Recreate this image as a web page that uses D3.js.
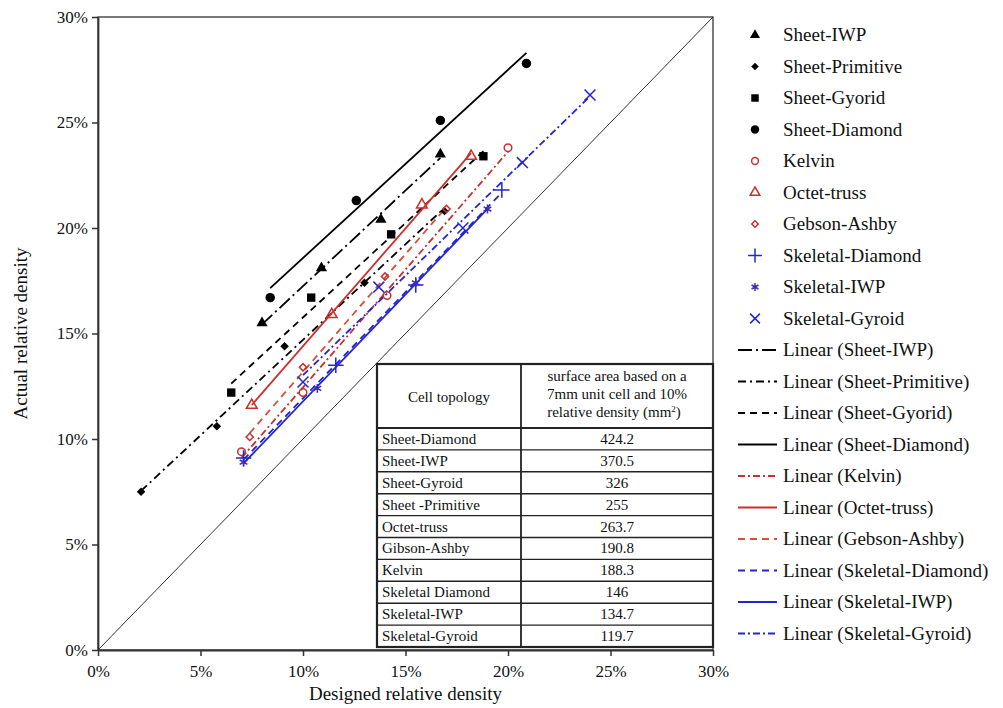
<!DOCTYPE html>
<html>
<head>
<meta charset="utf-8">
<script src="https://cdn.jsdelivr.net/npm/d3@7"></script>
<style>
  body { margin: 0; background: #fff; }
  text { font-family: "Liberation Serif", "Times New Roman", serif; fill: #111; }
</style>
</head>
<body>
<svg id="chart" width="1003" height="708"></svg>
<script>
// series names (legend order)
var seriesNames = ["Sheet-IWP", "Sheet-Primitive", "Sheet-Gyorid", "Sheet-Diamond", "Kelvin",
  "Octet-truss", "Gebson-Ashby", "Skeletal-Diamond", "Skeletal-IWP", "Skeletal-Gyroid"];

// designed (x) and actual (y) relative density, in %
var sheetIwpX = [8.0, 10.9, 13.8, 16.7];
var sheetIwpY = [15.5, 18.1, 20.4, 23.5];
var sheetPrimX = [2.1, 5.8, 9.1, 13.0, 16.9];
var sheetPrimY = [7.5, 10.6, 14.4, 17.4, 20.8];
var sheetGyrX = [6.5, 10.4, 14.3, 18.8];
var sheetGyrY = [12.2, 16.7, 19.7, 23.4];
var sheetDiaX = [8.4, 12.6, 16.7, 20.9];
var sheetDiaY = [16.7, 21.3, 25.1, 27.8];
var kelvinX = [7.0, 10.0, 14.1, 20.0];
var kelvinY = [9.4, 12.2, 16.8, 23.8];
var octetX = [7.5, 11.4, 15.8, 18.2];
var octetY = [11.6, 15.9, 21.1, 23.4];
var gebsonX = [7.4, 10.0, 14.0, 17.0];
var gebsonY = [10.1, 13.4, 17.7, 20.9];
var skelDiaX = [7.1, 11.6, 15.5, 19.7];
var skelDiaY = [9.1, 13.5, 17.3, 21.8];
var skelIwpX = [7.1, 10.7, 15.5, 19.0];
var skelIwpY = [8.9, 12.4, 17.4, 20.9];
var skelGyrX = [10.0, 13.7, 17.8, 20.7, 24.0];
var skelGyrY = [12.7, 17.2, 20.0, 23.1, 26.3];

// axis ticks
var tickValues = [0, 5, 10, 15, 20, 25, 30];

// inset table
var tableNames = ["Sheet-Diamond", "Sheet-IWP", "Sheet-Gyroid", "Sheet -Primitive", "Octet-truss",
  "Gibson-Ashby", "Kelvin", "Skeletal Diamond", "Skeletal-IWP", "Skeletal-Gyroid"];
var tableValues = ["424.2", "370.5", "326", "255", "263.7", "190.8", "188.3", "146", "134.7", "119.7"];

var red = "#c8302e", blue = "#2424d0";

// style per series: marker type, rotation, fill, stroke, trend line dash
var styles = [
  { sym: d3.symbolTriangle, size: 55, rot: 0, fill: "#000", stroke: "none", color: "#000", dash: "14,4,2,4" },
  { sym: d3.symbolSquare, size: 36, rot: 45, fill: "#000", stroke: "none", color: "#000", dash: "8,4,2,4" },
  { sym: d3.symbolSquare, size: 70, rot: 0, fill: "#000", stroke: "none", color: "#000", dash: "7,5" },
  { sym: d3.symbolCircle, size: 70, rot: 0, fill: "#000", stroke: "none", color: "#000", dash: null },
  { sym: d3.symbolCircle, size: 45, rot: 0, fill: "none", stroke: red, color: red, dash: "7,3,2,3" },
  { sym: d3.symbolTriangle, size: 50, rot: 0, fill: "none", stroke: red, color: red, dash: null },
  { sym: d3.symbolSquare, size: 26, rot: 45, fill: "none", stroke: red, color: "#d4503a", dash: "7,5" },
  { sym: d3.symbolPlus, size: 80, rot: 0, fill: "none", stroke: blue, color: blue, dash: "7,5" },
  { sym: d3.symbolAsterisk, size: 55, rot: 0, fill: "none", stroke: "#3a2ab8", color: blue, dash: null },
  { sym: d3.symbolTimes, size: 80, rot: 0, fill: "none", stroke: blue, color: blue, dash: "7,3,2,3" }
];

var xs = [sheetIwpX, sheetPrimX, sheetGyrX, sheetDiaX, kelvinX, octetX, gebsonX, skelDiaX, skelIwpX, skelGyrX];
var ys = [sheetIwpY, sheetPrimY, sheetGyrY, sheetDiaY, kelvinY, octetY, gebsonY, skelDiaY, skelIwpY, skelGyrY];

var svg = d3.select("#chart");

var x = d3.scaleLinear().domain([0, 30]).range([98, 713]);
var y = d3.scaleLinear().domain([0, 30]).range([650, 17]);

// frame
svg.append("rect")
  .attr("x", x(0)).attr("y", y(30))
  .attr("width", x(30) - x(0)).attr("height", y(0) - y(30))
  .attr("fill", "none").attr("stroke", "#333").attr("stroke-width", 1.3);

// y = x reference line
svg.append("line")
  .attr("x1", x(0)).attr("y1", y(0)).attr("x2", x(30)).attr("y2", y(30))
  .attr("stroke", "#333").attr("stroke-width", 1);

// axes
var fmt = function (d) { return d + "%"; };
var xAxis = svg.append("g")
  .attr("transform", "translate(0," + y(0) + ")")
  .call(d3.axisBottom(x).tickValues(tickValues).tickFormat(fmt).tickSize(6).tickSizeOuter(0));
var yAxis = svg.append("g")
  .attr("transform", "translate(" + x(0) + ",0)")
  .call(d3.axisLeft(y).tickValues(tickValues).tickFormat(fmt).tickSize(6).tickSizeOuter(0));
[xAxis, yAxis].forEach(function (g) {
  g.attr("font-family", null);
  g.select(".domain").attr("stroke", "#333").attr("stroke-width", 1.8);
  g.selectAll(".tick line").attr("stroke", "#333").attr("stroke-width", 1.5);
  g.selectAll(".tick text").attr("font-size", 17).attr("fill", "#111")
    .style("font-family", "'Liberation Serif', serif");
});
xAxis.selectAll(".tick text").attr("dy", "1.05em");
yAxis.selectAll(".tick text").attr("x", -10);

// axis titles
svg.append("text").attr("x", x(15)).attr("y", 700).attr("text-anchor", "middle")
  .attr("font-size", 19).text("Designed relative density");
svg.append("text").attr("transform", "translate(27," + y(15) + ")rotate(-90)")
  .attr("text-anchor", "middle").attr("font-size", 19).text("Actual relative density");

// least-squares trend line over the data range
function fit(xv, yv) {
  var mx = d3.mean(xv), my = d3.mean(yv);
  var sxy = d3.sum(xv, function (v, i) { return (v - mx) * (yv[i] - my); });
  var sxx = d3.sum(xv, function (v) { return (v - mx) * (v - mx); });
  var b = sxy / sxx, a = my - b * mx;
  var x0 = d3.min(xv), x1 = d3.max(xv);
  return [[x0, a + b * x0], [x1, a + b * x1]];
}

var line = d3.line().x(function (d) { return x(d[0]); }).y(function (d) { return y(d[1]); });

xs.forEach(function (xv, i) {
  svg.append("path")
    .attr("d", line(fit(xv, ys[i])))
    .attr("fill", "none")
    .attr("stroke", styles[i].color)
    .attr("stroke-width", 1.8)
    .attr("stroke-dasharray", styles[i].dash);
});

function drawMarker(g, st, px, py, scale) {
  g.append("path")
    .attr("d", d3.symbol().type(st.sym).size(st.size * (scale || 1))())
    .attr("transform", "translate(" + px + "," + py + ")rotate(" + st.rot + ")")
    .attr("fill", st.fill)
    .attr("stroke", st.stroke)
    .attr("stroke-width", st.fill === "none" ? 1.5 : 0);
}

var markers = svg.append("g");
xs.forEach(function (xv, i) {
  xv.forEach(function (v, j) {
    drawMarker(markers, styles[i], x(v), y(ys[i][j]));
  });
});

// inset table
var tbl = svg.append("g");
var tx0 = 377, tx1 = 713, tmid = 521, ty0 = 364, thead = 428, ty1 = 647;
var rowH = (ty1 - thead) / tableNames.length;
tbl.append("rect").attr("x", tx0).attr("y", ty0).attr("width", tx1 - tx0).attr("height", ty1 - ty0)
  .attr("fill", "#fff").attr("stroke", "#222").attr("stroke-width", 2.2);
tbl.append("line").attr("x1", tmid).attr("x2", tmid).attr("y1", ty0).attr("y2", ty1)
  .attr("stroke", "#222").attr("stroke-width", 1.8);
tbl.append("line").attr("x1", tx0).attr("x2", tx1).attr("y1", thead).attr("y2", thead)
  .attr("stroke", "#222").attr("stroke-width", 1.8);
tableNames.forEach(function (name, i) {
  var ry = thead + i * rowH;
  if (i > 0) {
    tbl.append("line").attr("x1", tx0).attr("x2", tx1).attr("y1", ry).attr("y2", ry)
      .attr("stroke", "#222").attr("stroke-width", 1.4);
  }
  tbl.append("text").attr("x", tx0 + 5).attr("y", ry + rowH / 2 + 5)
    .attr("font-size", 15).text(name);
  tbl.append("text").attr("x", (tmid + tx1) / 2).attr("y", ry + rowH / 2 + 5)
    .attr("text-anchor", "middle").attr("font-size", 15).text(tableValues[i]);
});
tbl.append("text").attr("x", (tx0 + tmid) / 2).attr("y", 402).attr("text-anchor", "middle")
  .attr("font-size", 15).text("Cell topology");
var head = tbl.append("text").attr("text-anchor", "middle").attr("font-size", 15);
head.append("tspan").attr("x", (tmid + tx1) / 2).attr("y", 381).text("surface area based on a");
head.append("tspan").attr("x", (tmid + tx1) / 2).attr("y", 399).text("7mm unit cell and 10%");
head.append("tspan").attr("x", (tmid + tx1) / 2 - 3).attr("y", 417).text("relative density (mm");
head.append("tspan").attr("dy", -5).attr("font-size", 9).text("2");
head.append("tspan").attr("dy", 5).text(")");

// legend
var leg = svg.append("g");
var legY0 = 35, legStep = 31.5, legTextX = 783;
seriesNames.forEach(function (name, i) {
  var ly = legY0 + i * legStep;
  drawMarker(leg, styles[i], 755, ly, 0.8);
  leg.append("text").attr("x", legTextX).attr("y", ly + 6).attr("font-size", 19).text(name);
});
seriesNames.forEach(function (name, i) {
  var ly = legY0 + (i + 10) * legStep;
  leg.append("line").attr("x1", 738).attr("x2", 777).attr("y1", ly).attr("y2", ly)
    .attr("stroke", styles[i].color).attr("stroke-width", 1.8)
    .attr("stroke-dasharray", styles[i].dash);
  leg.append("text").attr("x", legTextX).attr("y", ly + 6).attr("font-size", 19)
    .text("Linear (" + name + ")");
});
</script>
</body>
</html>
